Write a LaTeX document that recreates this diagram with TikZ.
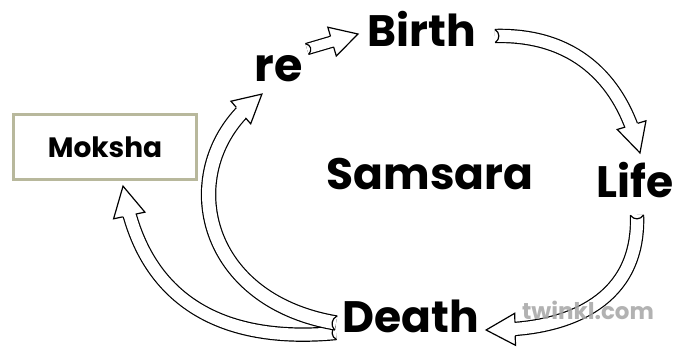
\documentclass[tikz,border=0pt]{standalone}
\usepackage{fontspec}
\setmainfont{Poppins}
\usetikzlibrary{decorations.markings}
\definecolor{boxedge}{RGB}{184,184,156}
\definecolor{wmark}{RGB}{165,165,165}
\newcommand\hollowhead[3]{%
  \fill[white] (0,0) -- (-#3,#2) -- (-#3,-#2) -- cycle;
  \draw[line width=1.2pt,line join=miter] (-#3,#1) -- (-#3,#2) -- (0,0) -- (-#3,-#2) -- (-#3,-#1);}
\newcommand\tailnotch[1]{%
  \draw[line width=1.2pt] (0,#1) .. controls (5,#1/2) and (5,-#1/2) .. (0,-#1);}
% #1 double distance, #2 line-centre half width, #3 head half width, #4 head length, #5 shorten, #6 path
\newcommand\harrow[6]{%
  \draw[shaft=#1, shorten >=#5] #6;
  \path[decorate, decoration={markings,
     mark=at position 0.0005 with {\tailnotch{#2}},
     mark=at position 0.9995 with {\hollowhead{#2}{#3}{#4}}}] #6;}
\tikzset{
  lbl/.style={font=\bfseries\fontsize{44}{44}\selectfont, inner sep=0pt, anchor=base},
  shaft/.style={draw=black, line width=1.2pt, double=white, double distance=#1},
}
\begin{document}
\begin{tikzpicture}[x=1pt,y=-1pt]
\useasboundingbox (0,0) rectangle (681,347);
\fill[white] (0,0) rectangle (681,347);

\node[lbl] (birth) at (422,47) {Birth};
\node[lbl] (life) at (635,198) {Life};
\node[lbl] (death) at (411,333) {Death};
\node[lbl, font=\bfseries\fontsize{46}{46}\selectfont] (re) at (279,82) {re};
\node[lbl] (samsara) at (430,190) {Samsara};
\node[draw=boxedge, line width=3pt, fill=white, minimum width=183pt, minimum height=65pt,
      inner sep=0pt, font=\bfseries\fontsize{28}{28}\selectfont] (moksha) at (105,147) {Moksha};

% re -> Birth
\harrow{10pt}{5.6}{15}{27}{14pt}{([shift={(28,-33)}]re.base) -- ([shift={(-64,-13)}]birth.base)}
% Birth -> Life
\harrow{12pt}{6.6}{15}{29}{15pt}{([shift={(73,-11)}]birth.base) .. controls (575,34) and (618,80) .. ([shift={(5,-45)}]life.base)}
% Life -> Death
\harrow{12pt}{6.6}{16}{29}{15pt}{([shift={(2,17)}]life.base) .. controls (640,300) and (570,328) .. ([shift={(75,-3)}]death.base)}
% Death -> Moksha
\harrow{12pt}{6.6}{16}{30}{15pt}{([shift={(-75,0)}]death.base) .. controls (210,345) and (145,290) .. ([shift={(18,5)}]moksha.south)}
% Death -> re
\harrow{13pt}{7.1}{15}{28}{15pt}{([shift={(-75,-10)}]death.base) .. controls (200,300) and (175,170) .. ([shift={(-17,12)}]re.base)}

\node[font=\bfseries\fontsize{23}{23}\selectfont, text=wmark, text opacity=0.85, inner sep=0pt, anchor=base] (twinkl) at (588,320) {twinkl.com};
\end{tikzpicture}
\end{document}
